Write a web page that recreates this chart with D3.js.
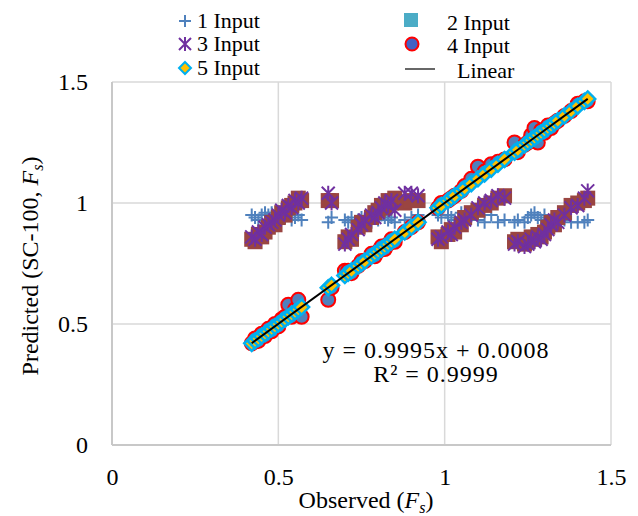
<!DOCTYPE html>
<html>
<head>
<meta charset="utf-8">
<script src="https://cdn.jsdelivr.net/npm/d3@7"></script>
<style>
  body { margin: 0; background: #fff; }
  svg { font-family: "Liberation Serif", "Times New Roman", serif; }
</style>
</head>
<body>
<div id="vis"></div>
<script>
// observed Fs (shared x values)
const observed = [
  0.42, 0.43, 0.44, 0.45, 0.46, 0.47, 0.48, 0.49, 0.50, 0.51, 0.52, 0.53, 0.54, 0.55, 0.56, 0.57,
  0.65, 0.66,
  0.70, 0.71, 0.72, 0.74, 0.75, 0.76, 0.78, 0.79, 0.80, 0.81, 0.82, 0.83, 0.84, 0.85, 0.88, 0.90, 0.92,
  0.98, 0.99, 1.01, 1.02, 1.03, 1.05, 1.06, 1.08, 1.10, 1.12, 1.14, 1.16, 1.18,
  1.21, 1.22, 1.24, 1.25, 1.26, 1.27, 1.28, 1.29, 1.30, 1.31, 1.32, 1.33, 1.34, 1.36, 1.38, 1.40, 1.42, 1.43
];
const input1 = [
  0.95, 0.94, 0.93, 0.95, 0.96, 0.95, 0.96, 0.94, 0.93, 0.95, 0.94, 0.96, 0.93, 0.94, 0.95, 0.93,
  0.92, 0.94,
  0.93, 0.92, 0.94, 0.93, 0.94, 0.93, 0.92, 0.94, 0.93, 0.95, 0.94, 0.93, 0.94, 0.92, 0.93, 0.94, 0.95,
  0.95, 0.94, 0.95, 0.94, 0.93, 0.96, 0.94, 0.95, 0.93, 0.92, 0.95, 0.92, 0.93,
  0.92, 0.93, 0.92, 0.94, 0.95, 0.96, 0.94, 0.93, 0.95, 0.92, 0.93, 0.92, 0.94, 0.93, 0.92, 0.92, 0.92, 0.93
];
const input2 = [
  0.85, 0.84, 0.87, 0.86, 0.88, 0.90, 0.92, 0.91, 0.94, 0.96, 0.95, 0.98, 0.99, 1.00, 1.02, 1.01,
  1.01, 1.01,
  0.84, 0.86, 0.85, 0.90, 0.92, 0.91, 0.94, 0.96, 0.97, 0.99, 0.98, 1.01, 1.00, 1.02, 1.00, 1.01, 1.01,
  0.86, 0.84, 0.87, 0.89, 0.88, 0.91, 0.94, 0.96, 0.97, 0.99, 1.00, 1.02, 1.03,
  0.84, 0.85, 0.83, 0.84, 0.86, 0.85, 0.87, 0.86, 0.88, 0.90, 0.92, 0.91, 0.94, 0.96, 0.99, 1.00, 1.01, 1.02
];
const input3 = [
  0.86, 0.85, 0.88, 0.87, 0.90, 0.91, 0.92, 0.93, 0.95, 0.97, 0.96, 0.99, 0.98, 1.01, 1.00, 1.02,
  1.04, 1.00,
  0.83, 0.85, 0.87, 0.89, 0.91, 0.93, 0.95, 0.94, 0.96, 0.98, 1.00, 0.99, 1.01, 0.97, 1.04, 1.04, 1.03,
  0.85, 0.86, 0.88, 0.87, 0.90, 0.92, 0.93, 0.95, 0.98, 1.00, 1.01, 1.03, 1.02,
  0.83, 0.84, 0.82, 0.83, 0.85, 0.84, 0.86, 0.85, 0.87, 0.89, 0.91, 0.93, 0.92, 0.95, 0.98, 0.99, 1.02, 1.05
];
const input4 = [
  0.42, 0.44, 0.43, 0.46, 0.45, 0.48, 0.47, 0.50, 0.49, 0.52, 0.53, 0.58, 0.53, 0.56, 0.60, 0.53,
  0.60, 0.65,
  0.72, 0.72, 0.71, 0.74, 0.76, 0.76, 0.79, 0.78, 0.80, 0.82, 0.81, 0.83, 0.85, 0.84, 0.88, 0.90, 0.92,
  0.98, 1.00, 1.01, 1.02, 1.03, 1.05, 1.07, 1.10, 1.15, 1.13, 1.16, 1.17, 1.18,
  1.25, 1.21, 1.24, 1.25, 1.28, 1.31, 1.25, 1.30, 1.29, 1.32, 1.31, 1.33, 1.34, 1.36, 1.38, 1.41, 1.42, 1.42
];
const input5 = [
  0.42, 0.43, 0.44, 0.45, 0.46, 0.47, 0.48, 0.49, 0.50, 0.51, 0.52, 0.53, 0.54, 0.55, 0.56, 0.57,
  0.65, 0.66,
  0.70, 0.71, 0.72, 0.74, 0.75, 0.76, 0.78, 0.79, 0.80, 0.81, 0.82, 0.83, 0.84, 0.85, 0.88, 0.90, 0.92,
  0.98, 0.99, 1.01, 1.02, 1.03, 1.05, 1.06, 1.08, 1.10, 1.12, 1.14, 1.16, 1.18,
  1.21, 1.22, 1.24, 1.25, 1.26, 1.27, 1.28, 1.29, 1.30, 1.31, 1.32, 1.33, 1.34, 1.36, 1.38, 1.40, 1.42, 1.43
];
const ticks = [0, 0.5, 1, 1.5];
const fit = { slope: 0.9995, intercept: 0.0008, r2: 0.9999 };

const width = 638, height = 516;
const margin = { top: 82, right: 27, bottom: 71, left: 112 };

const svg = d3.select("#vis").append("svg")
  .attr("width", width)
  .attr("height", height);

const x = d3.scaleLinear().domain([0, 1.5]).range([margin.left, width - margin.right]);
const y = d3.scaleLinear().domain([0, 1.5]).range([height - margin.bottom, margin.top]);

// gridlines + frame
const grid = svg.append("g").attr("stroke", "#d9d9d9").attr("stroke-width", 1.5);
grid.selectAll(".gx").data(ticks.slice(1)).join("line")
  .attr("x1", d => x(d)).attr("x2", d => x(d))
  .attr("y1", y(0)).attr("y2", y(1.5));
grid.selectAll(".gy").data(ticks.slice(1)).join("line")
  .attr("x1", x(0)).attr("x2", x(1.5))
  .attr("y1", d => y(d)).attr("y2", d => y(d));
svg.append("line").attr("stroke", "#c8c8c8").attr("stroke-width", 2)
  .attr("x1", x(0)).attr("x2", x(0)).attr("y1", y(0)).attr("y2", y(1.5));
svg.append("line").attr("stroke", "#c8c8c8").attr("stroke-width", 2)
  .attr("x1", x(0)).attr("x2", x(1.5)).attr("y1", y(0)).attr("y2", y(0));

// axes (labels only)
const xAxis = svg.append("g")
  .attr("transform", "translate(0," + y(0) + ")")
  .call(d3.axisBottom(x).tickValues(ticks).tickFormat(d => String(d)).tickSize(0).tickPadding(23));
const yAxis = svg.append("g")
  .attr("transform", "translate(" + x(0) + ",0)")
  .call(d3.axisLeft(y).tickValues(ticks).tickFormat(d => String(d)).tickSize(0).tickPadding(24));
[xAxis, yAxis].forEach(a => {
  a.select(".domain").remove();
  a.selectAll("text").attr("font-family", "Liberation Serif").attr("font-size", 24).attr("fill", "#000");
});

// axis titles
const xt = svg.append("text")
  .attr("x", 366).attr("y", 508)
  .attr("text-anchor", "middle").attr("font-size", 24);
xt.append("tspan").text("Observed (");
xt.append("tspan").attr("font-style", "italic").text("F");
xt.append("tspan").attr("font-style", "italic").attr("font-size", 16).attr("dy", 5).text("s");
xt.append("tspan").attr("dy", -5).text(")");

const yt = svg.append("text")
  .attr("transform", "translate(38,266) rotate(-90)")
  .attr("text-anchor", "middle").attr("font-size", 24);
yt.append("tspan").text("Predicted (SC-100, ");
yt.append("tspan").attr("font-style", "italic").text("F");
yt.append("tspan").attr("font-style", "italic").attr("font-size", 16).attr("dy", 5).text("s");
yt.append("tspan").attr("dy", -5).text(")");

// marker shapes
const plusPath = s => `M${-s},0H${s}M0,${-s}V${s}`;
const starPath = s => `M${-s},${-s}L${s},${s}M${-s},${s}L${s},${-s}M0,${-s * 1.15}V${s * 1.15}`;
const diamondPath = s => `M0,${-s}L${s},0L0,${s}L${-s},0Z`;

const pts = vals => observed.map((o, i) => [o, vals[i]]);
const plot = svg.append("g");

plot.selectAll(".p1").data(pts(input1)).join("path")
  .attr("d", plusPath(6.5))
  .attr("transform", d => `translate(${x(d[0])},${y(d[1])})`)
  .attr("stroke", "#4f81bd").attr("stroke-width", 2).attr("fill", "none");

plot.selectAll(".p2").data(pts(input2)).join("rect")
  .attr("x", d => x(d[0]) - 7.5).attr("y", d => y(d[1]) - 7.5)
  .attr("width", 15).attr("height", 15)
  .attr("fill", "#9a4541");

plot.selectAll(".p3").data(pts(input3)).join("path")
  .attr("d", starPath(6.5))
  .attr("transform", d => `translate(${x(d[0])},${y(d[1])})`)
  .attr("stroke", "#7030a0").attr("stroke-width", 2).attr("fill", "none");

plot.selectAll(".p4").data(pts(input4)).join("circle")
  .attr("cx", d => x(d[0])).attr("cy", d => y(d[1])).attr("r", 7)
  .attr("fill", "#4f81bd").attr("stroke", "#ff0000").attr("stroke-width", 2);

plot.selectAll(".p5").data(pts(input5)).join("path")
  .attr("d", diamondPath(7.5))
  .attr("transform", d => `translate(${x(d[0])},${y(d[1])})`)
  .attr("fill", "#ffc000").attr("stroke", "#00b0f0").attr("stroke-width", 2.5);

// linear trendline
const xr = d3.extent(observed);
svg.append("line")
  .attr("x1", x(xr[0])).attr("y1", y(fit.slope * xr[0] + fit.intercept))
  .attr("x2", x(xr[1])).attr("y2", y(fit.slope * xr[1] + fit.intercept))
  .attr("stroke", "#000").attr("stroke-width", 2);

// equation
svg.append("text").attr("x", 436).attr("y", 358)
  .attr("text-anchor", "middle").attr("font-size", 24).attr("letter-spacing", 1)
  .text(`y = ${fit.slope}x + ${fit.intercept.toFixed(4)}`);
svg.append("text").attr("x", 436).attr("y", 382)
  .attr("text-anchor", "middle").attr("font-size", 24).attr("letter-spacing", 1)
  .text(`R² = ${fit.r2}`);

// legend
const legend = svg.append("g").attr("font-size", 22);
const leftItems = [
  { label: "1 Input", y: 21 },
  { label: "3 Input", y: 44 },
  { label: "5 Input", y: 68 }
];
const rightItems = [
  { label: "2 Input", y: 21, tx: 447 },
  { label: "4 Input", y: 44, tx: 447 },
  { label: "Linear", y: 69, tx: 457 }
];
legend.selectAll(".lt").data(leftItems).join("text")
  .attr("x", 197).attr("y", d => d.y + 7).text(d => d.label);
legend.selectAll(".rt").data(rightItems).join("text")
  .attr("x", d => d.tx).attr("y", d => d.y + 9).text(d => d.label);

legend.append("path").attr("d", plusPath(6)).attr("transform", "translate(185,21)")
  .attr("stroke", "#4f81bd").attr("stroke-width", 2).attr("fill", "none");
legend.append("path").attr("d", starPath(6)).attr("transform", "translate(185,44)")
  .attr("stroke", "#7030a0").attr("stroke-width", 2).attr("fill", "none");
legend.append("path").attr("d", diamondPath(6)).attr("transform", "translate(185,68)")
  .attr("fill", "#ffc000").attr("stroke", "#00b0f0").attr("stroke-width", 2);
legend.append("rect").attr("x", 404).attr("y", 13).attr("width", 14).attr("height", 14)
  .attr("fill", "#4bacc6");
legend.append("circle").attr("cx", 412).attr("cy", 44).attr("r", 6.5)
  .attr("fill", "#4461c4").attr("stroke", "#ff0000").attr("stroke-width", 2);
legend.append("line").attr("x1", 405).attr("x2", 435).attr("y1", 69).attr("y2", 69)
  .attr("stroke", "#000").attr("stroke-width", 1.2);
</script>
</body>
</html>
